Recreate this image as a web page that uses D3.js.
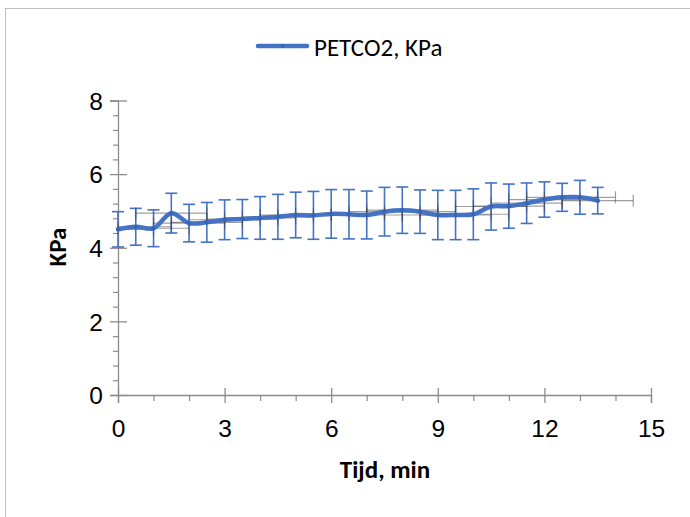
<!DOCTYPE html>
<html>
<head>
<meta charset="utf-8">
<script src="https://cdn.jsdelivr.net/npm/d3@7"></script>
<style>
  body { margin: 0; background: #fff; }
  svg { display: block; font-family: Carlito, Calibri, Lato, sans-serif; }
</style>
</head>
<body>
<div id="chart"></div>
<script>
// time in minutes, mean PETCO2 (KPa) and its SD
const times = [0, 0.5, 1, 1.5, 2, 2.5, 3, 3.5, 4, 4.5, 5, 5.5, 6, 6.5, 7,
    7.5, 8, 8.5, 9, 9.5, 10, 10.5, 11, 11.5, 12, 12.5, 13, 13.5]
const petco2 = [4.50, 4.57, 4.53, 4.94, 4.67, 4.69, 4.76, 4.78, 4.81, 4.84, 4.89, 4.88, 4.92, 4.91, 4.89,
    4.98, 5.02, 4.98, 4.89, 4.89, 4.91, 5.12, 5.13, 5.21, 5.31, 5.37, 5.37, 5.28]
const petco2Sd = [0.48, 0.50, 0.50, 0.54, 0.51, 0.54, 0.54, 0.53, 0.58, 0.61, 0.62, 0.65, 0.66, 0.67, 0.65,
    0.66, 0.63, 0.59, 0.67, 0.67, 0.69, 0.64, 0.60, 0.55, 0.48, 0.38, 0.46, 0.36]
const timeErr = 1  // horizontal error bar, min

const xTicks = [0, 3, 6, 9, 12, 15]
const xMinor = [1, 2, 4, 5, 7, 8, 10, 11, 13, 14]
const yTicks = [0, 2, 4, 6, 8]
const yMinor = [0.4, 0.8, 1.2, 1.6, 2.4, 2.8, 3.2, 3.6, 4.4, 4.8, 5.2, 5.6, 6.4, 6.8, 7.2, 7.6]

const seriesName = "PETCO2, KPa"
const xTitle = "Tijd, min"
const yTitle = "KPa"

const width = 690
const height = 517
const blue = "#4472C4"
const axisColor = "#8c8c8c"

const svg = d3.select("#chart").append("svg")
    .attr("width", width)
    .attr("height", height)

// chart border
svg.append("rect")
    .attr("x", 5.5).attr("y", 8.5)
    .attr("width", 720).attr("height", 600)
    .attr("fill", "none").attr("stroke", "#bfbfbf")

const x = d3.scaleLinear().domain([0, 15]).range([118, 651])
const y = d3.scaleLinear().domain([0, 8]).range([395, 100.5])

const data = times.map((t, i) => ({ t: t, v: petco2[i], sd: petco2Sd[i] }))

// axes
const gx = svg.append("g").attr("transform", "translate(0,395)")
gx.call(d3.axisBottom(x).tickValues(xTicks).tickSize(8).tickPadding(0))
gx.select(".domain").attr("stroke", axisColor).attr("stroke-width", 1.3)
gx.selectAll(".tick line").attr("stroke", axisColor).attr("stroke-width", 1.3).attr("y1", -7).attr("y2", 8)
gx.selectAll(".tick text").attr("y", 25).attr("dy", "0.71em")
    .attr("font-size", 24.5).attr("fill", "#000")
svg.append("g").attr("transform", "translate(0,395)")
    .call(d3.axisBottom(x).tickValues(xMinor).tickSize(6).tickFormat(""))
    .call(g => g.select(".domain").remove())
    .selectAll("line").attr("stroke", axisColor).attr("stroke-width", 1.2)

const gy = svg.append("g").attr("transform", "translate(118,0)")
gy.call(d3.axisLeft(y).tickValues(yTicks).tickSize(8).tickPadding(7))
gy.select(".domain").attr("stroke", axisColor).attr("stroke-width", 1.3)
gy.selectAll(".tick line").attr("stroke", axisColor).attr("stroke-width", 1.3).attr("x1", 9).attr("x2", -8)
gy.selectAll(".tick text").attr("font-size", 24.5).attr("fill", "#000").attr("dy", "0.36em")
svg.append("g").attr("transform", "translate(118,0)")
    .call(d3.axisLeft(y).tickValues(yMinor).tickSize(5).tickFormat(""))
    .call(g => g.select(".domain").remove())
    .selectAll("line").attr("stroke", axisColor).attr("stroke-width", 1.2)

// vertical error bars
const capW = 6
const ebar = svg.append("g").attr("stroke", blue).attr("stroke-width", 1.6).attr("fill", "none")
data.forEach(d => {
    const top = y(d.v + d.sd), bot = y(d.v - d.sd), cx = x(d.t)
    ebar.append("line").attr("x1", cx).attr("x2", cx).attr("y1", top).attr("y2", bot)
    ebar.append("line").attr("x1", cx - capW).attr("x2", cx + capW).attr("y1", top).attr("y2", top)
    ebar.append("line").attr("x1", cx - capW).attr("x2", cx + capW).attr("y1", bot).attr("y2", bot)
})

// horizontal error bars (clipped at the y axis)
const hbar = svg.append("g").attr("stroke", "#404040").attr("stroke-opacity", 0.5)
    .attr("stroke-width", 1.2).attr("fill", "none")
data.forEach(d => {
    const cy = y(d.v)
    const lo = Math.max(0, d.t - timeErr), hi = d.t + timeErr
    hbar.append("line").attr("x1", x(lo)).attr("x2", x(hi)).attr("y1", cy).attr("y2", cy)
    if (d.t - timeErr >= 0)
        hbar.append("line").attr("x1", x(lo)).attr("x2", x(lo)).attr("y1", cy - 6).attr("y2", cy + 6)
    hbar.append("line").attr("x1", x(hi)).attr("x2", x(hi)).attr("y1", cy - 6).attr("y2", cy + 6)
})

// series line
svg.append("path").datum(data)
    .attr("fill", "none").attr("stroke", blue).attr("stroke-width", 4.5)
    .attr("stroke-linejoin", "round").attr("stroke-linecap", "round")
    .attr("d", d3.line().curve(d3.curveCatmullRom.alpha(0.5))
        .x(d => x(d.t)).y(d => y(d.v)))
svg.append("g").selectAll("circle").data(data).join("circle")
    .attr("cx", d => x(d.t)).attr("cy", d => y(d.v)).attr("r", 2)
    .attr("fill", "#3a63b0")

// axis titles
svg.append("text")
    .attr("x", 385).attr("y", 478)
    .attr("text-anchor", "middle").attr("font-size", 25).attr("font-weight", "bold")
    .text(xTitle)
svg.append("text")
    .attr("transform", "translate(66,247) rotate(-90)")
    .attr("text-anchor", "middle").attr("font-size", 25).attr("font-weight", "bold")
    .text(yTitle)

// legend
const leg = svg.append("g")
leg.append("line").attr("x1", 258).attr("x2", 307).attr("y1", 46).attr("y2", 46)
    .attr("stroke", blue).attr("stroke-width", 4.5).attr("stroke-linecap", "round")
leg.append("circle").attr("cx", 282.5).attr("cy", 46).attr("r", 2).attr("fill", "#3a63b0")
leg.append("text").attr("x", 314).attr("y", 56).attr("font-size", 25).text(seriesName)
</script>
</body>
</html>
